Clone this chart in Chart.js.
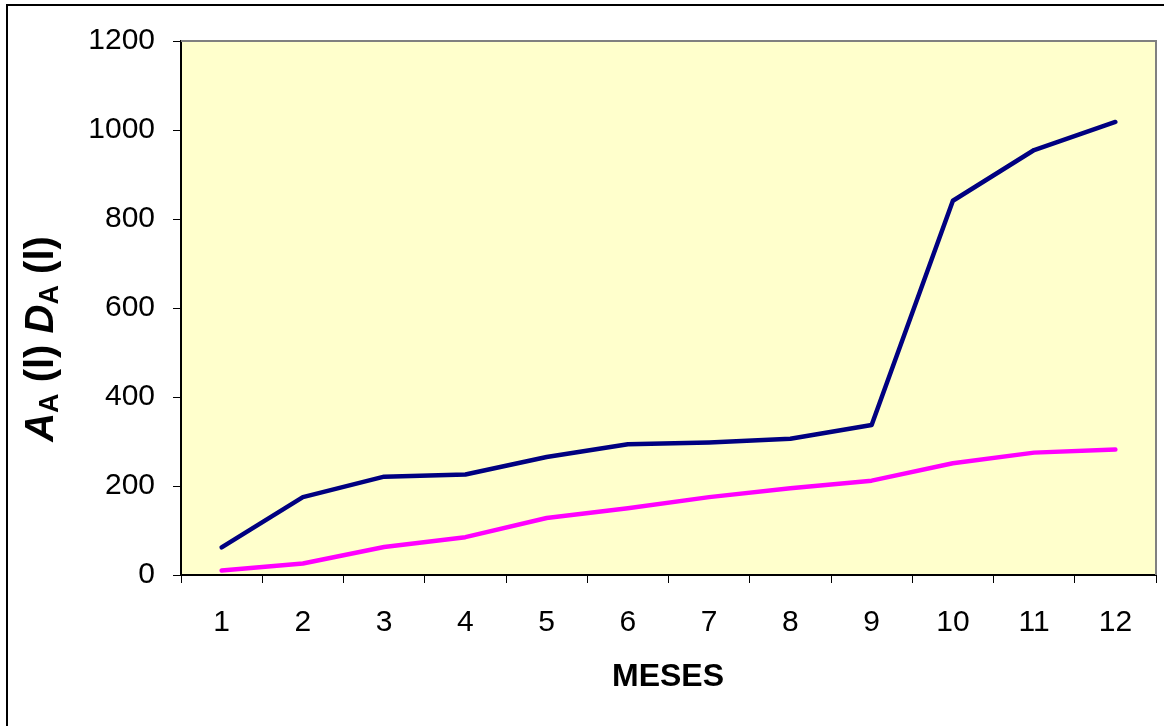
<!DOCTYPE html>
<html>
<head>
<meta charset="utf-8">
<script src="https://cdn.jsdelivr.net/npm/chart.js@4/dist/chart.umd.min.js"></script>
<style>
  html, body { margin: 0; padding: 0; background: #ffffff; }
  canvas { display: block; }
</style>
</head>
<body>
<canvas id="c" width="1169" height="726"></canvas>
<script>
const months = ["1", "2", "3", "4", "5", "6", "7", "8", "9", "10", "11", "12"];
const seriesA = [62, 175, 221, 226, 265, 294, 298, 306, 337, 841, 955, 1018];
const seriesD = [10, 26, 63, 85, 128, 150, 175, 195, 212, 251, 275, 282];
const yTicks = [0, 200, 400, 600, 800, 1000, 1200];
const xTitle = "MESES";
const yTitleParts = [
  { t: "A", sub: false, it: true }, { t: "A", sub: true, it: false }, { t: " (l) ", sub: false, it: false },
  { t: "D", sub: false, it: true }, { t: "A", sub: true, it: false }, { t: " (l)", sub: false, it: false }
];

const FONT = "'Liberation Sans', Arial, sans-serif";

const decor = {
  id: 'decor',
  beforeDraw(chart) {
    const { ctx, chartArea: a } = chart;
    ctx.save();
    ctx.fillStyle = '#FFFFCC';
    ctx.fillRect(a.left, a.top, a.right - a.left, a.bottom - a.top);
    ctx.restore();
  },
  afterDatasetsDraw(chart) {
    const { ctx, chartArea: a } = chart;
    ctx.save();
    ctx.strokeStyle = '#808080';
    ctx.lineWidth = 2;
    ctx.beginPath();
    ctx.moveTo(a.left, a.top);
    ctx.lineTo(a.right, a.top);
    ctx.lineTo(a.right, a.bottom);
    ctx.stroke();
    ctx.restore();
  },
  afterDraw(chart) {
    const { ctx } = chart;
    ctx.save();
    ctx.strokeStyle = '#000000';
    ctx.lineWidth = 2;
    ctx.beginPath();
    ctx.moveTo(7, 726);
    ctx.lineTo(7, 5);
    ctx.lineTo(1164, 5);
    ctx.stroke();

    ctx.fillStyle = '#000';
    ctx.font = "bold 32px " + FONT;
    ctx.textAlign = 'center';
    ctx.textBaseline = 'alphabetic';
    ctx.fillText(xTitle, 668, 686);

    const fontFor = p => p.sub ? "bold 27px " + FONT : (p.it ? "bold italic 40px " + FONT : "bold 40px " + FONT);
    let total = 0;
    const widths = yTitleParts.map(p => {
      ctx.font = fontFor(p);
      const w = ctx.measureText(p.t).width;
      total += w;
      return w;
    });
    ctx.translate(53, 339);
    ctx.rotate(-Math.PI / 2);
    let x = -total / 2;
    ctx.textAlign = 'left';
    yTitleParts.forEach((p, i) => {
      ctx.font = fontFor(p);
      ctx.fillText(p.t, x, p.sub ? 5 : 0);
      x += widths[i];
    });
    ctx.restore();
  }
};

new Chart(document.getElementById('c'), {
  type: 'line',
  data: {
    labels: months,
    datasets: [
      { label: 'A', data: seriesA, borderColor: '#000080', borderWidth: 4.5, pointRadius: 0, borderCapStyle: 'round', borderJoinStyle: 'round', tension: 0, fill: false },
      { label: 'D', data: seriesD, borderColor: '#FF00FF', borderWidth: 4.5, pointRadius: 0, borderCapStyle: 'round', borderJoinStyle: 'round', tension: 0, fill: false }
    ]
  },
  options: {
    responsive: false,
    animation: false,
    devicePixelRatio: 1,
    layout: { padding: { left: 0, top: 41, right: 13, bottom: 0 } },
    plugins: { legend: { display: false }, tooltip: { enabled: false } },
    scales: {
      x: {
        type: 'category',
        offset: true,
        afterFit(s) { s.height = 151; },
        grid: { display: true, offset: true, drawOnChartArea: false, drawTicks: true, tickLength: 8, color: '#000000', lineWidth: 1 },
        border: { display: true, color: '#000000', width: 2 },
        ticks: { color: '#000000', font: { family: FONT, size: 30 }, padding: 22, maxRotation: 0, autoSkip: false }
      },
      y: {
        min: 0,
        max: 1200,
        afterFit(s) { s.width = 181; },
        afterBuildTicks(s) { s.ticks = yTicks.map(v => ({ value: v })); },
        grid: { display: true, drawOnChartArea: false, drawTicks: true, tickLength: 8, color: '#000000', lineWidth: 1 },
        border: { display: true, color: '#000000', width: 2 },
        ticks: { color: '#000000', font: { family: FONT, size: 30 }, padding: 18, callback: v => String(v) }
      }
    }
  },
  plugins: [decor]
});
</script>
</body>
</html>
